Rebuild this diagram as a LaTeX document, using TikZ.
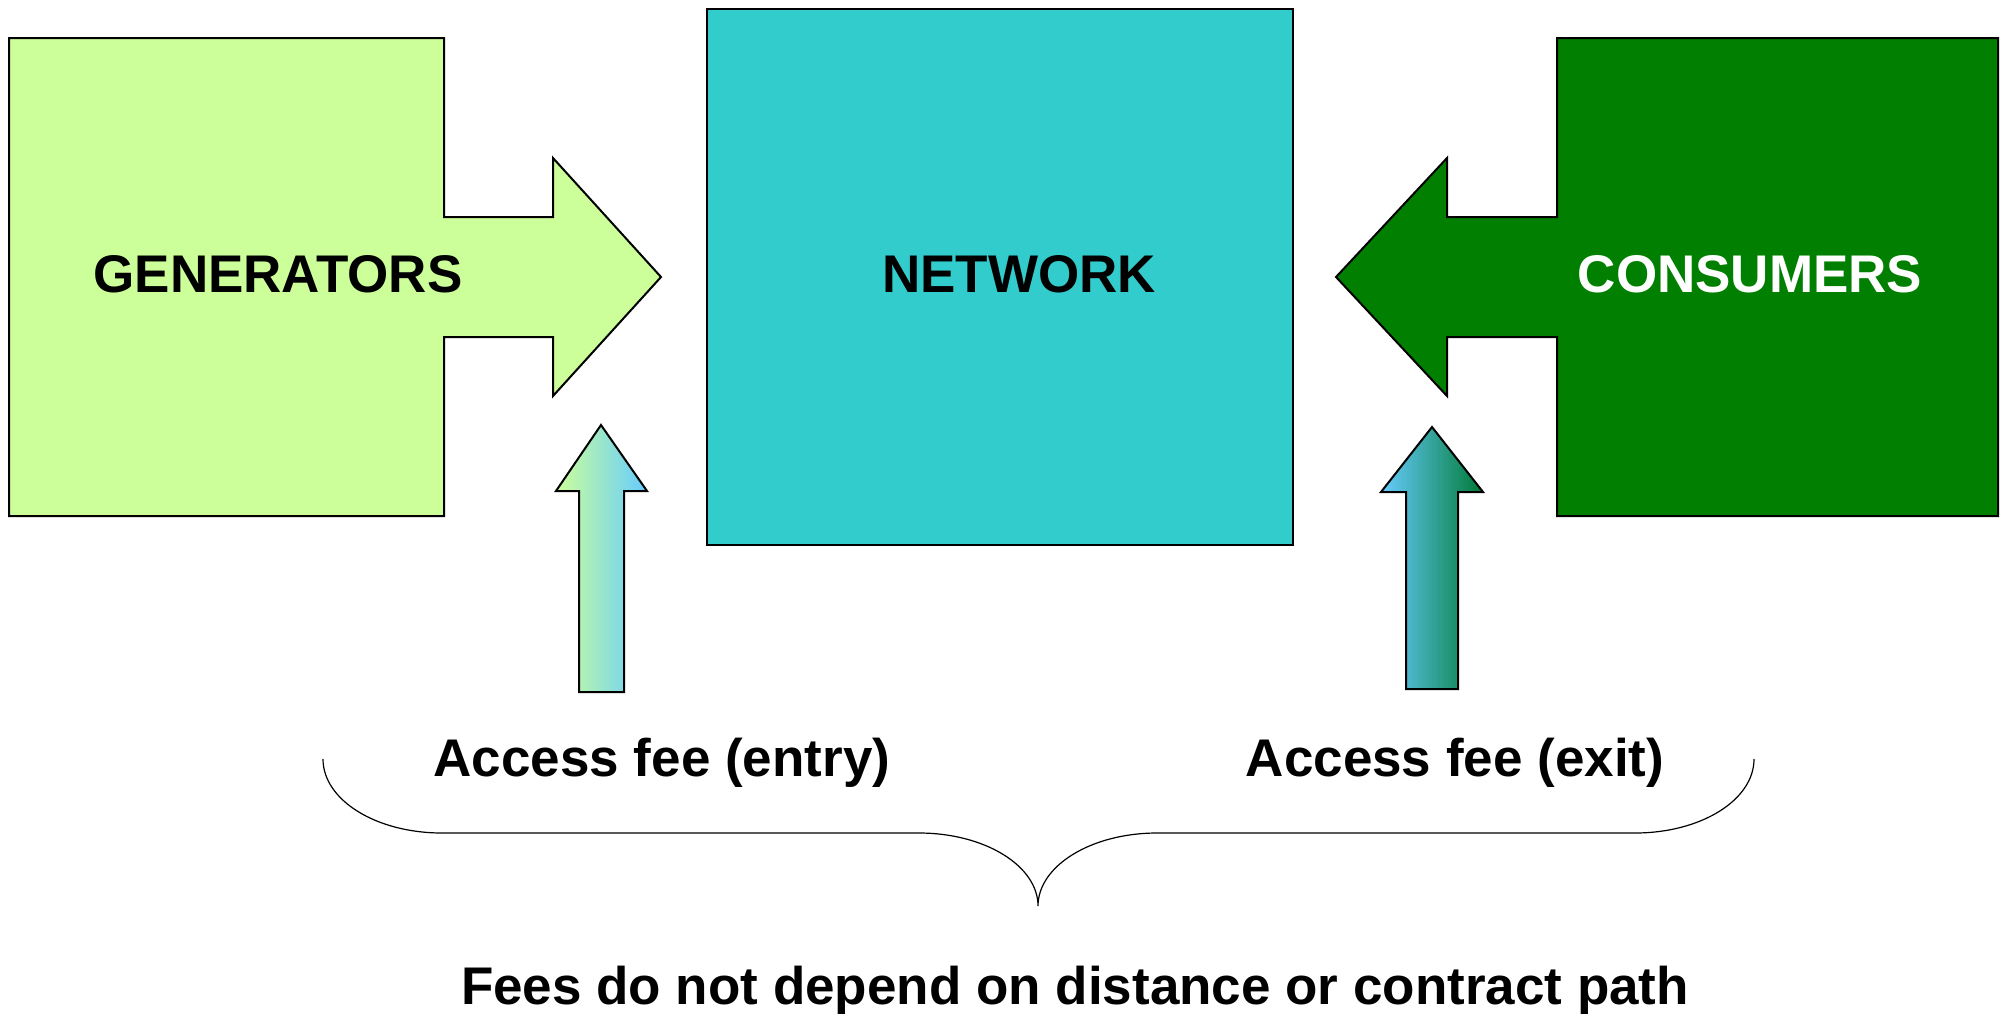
\documentclass[tikz,border=0pt]{standalone}
\usepackage{fontspec}
\setmainfont{Liberation Sans}
\definecolor{genfill}{HTML}{CCFF99}
\definecolor{netfill}{HTML}{33CCCC}
\definecolor{consfill}{HTML}{007F00}
\definecolor{skyblue}{HTML}{66CCFF}
\definecolor{darkgr}{HTML}{007A35}
\begin{document}
\begin{tikzpicture}[x=0.5pt,y=-0.5pt,
  shapeline/.style={draw=black, line width=1pt, line join=miter},
  lbl/.style={font=\bfseries\fontsize{26.5}{30}\selectfont, inner sep=0pt, anchor=base},
  bracestyle/.style={draw=black, line width=0.6pt}]
\useasboundingbox (0,0) rectangle (2007,1013);
% generators block arrow
\path[shapeline, fill=genfill] (9,38) -- (444,38) -- (444,217) -- (553,217) -- (553,158)
  -- (661,277) -- (553,396) -- (553,337) -- (444,337) -- (444,516) -- (9,516) -- cycle;
% network
\path[shapeline, fill=netfill] (707,9) rectangle (1293,545);
% consumers block arrow
\path[shapeline, fill=consfill] (1998,38) -- (1557,38) -- (1557,217) -- (1447,217) -- (1447,158)
  -- (1336,277) -- (1447,396) -- (1447,337) -- (1557,337) -- (1557,516) -- (1998,516) -- cycle;
% up arrows with gradients
\shadedraw[shapeline, left color=genfill, right color=skyblue]
  (579,692) -- (579,491) -- (556,491) -- (601,425) -- (647,491) -- (624,491) -- (624,692) -- cycle;
\shadedraw[shapeline, left color=skyblue, right color=darkgr]
  (1406,689) -- (1406,492) -- (1381,492) -- (1432,427) -- (1483,492) -- (1458,492) -- (1458,689) -- cycle;
% labels
\node[lbl] (gen) at (278,292) {GENERATORS};
\node[lbl] (net) at (1019,292) {NETWORK};
\node[lbl, text=white] (cons) at (1750,292) {CONSUMERS};
\node[lbl] (entry) at (662,776) {Access fee (entry)};
\node[lbl] (exit) at (1455,776) {Access fee (exit)};
\node[lbl] (fees) at (1075,1004) {Fees do not depend on distance or contract path};
% brace
\coordinate (bl) at (323,759);
\coordinate (bm) at (1038,906);
\coordinate (br) at (1754,759);
\draw[bracestyle] (bl) .. controls (323,800) and (376,833) .. (442,833) -- (919,833)
  .. controls (985,833) and (1038,866) .. (bm)
  .. controls (1038,866) and (1091,833) .. (1157,833) -- (1635,833)
  .. controls (1701,833) and (1754,800) .. (br);
\end{tikzpicture}
\end{document}
